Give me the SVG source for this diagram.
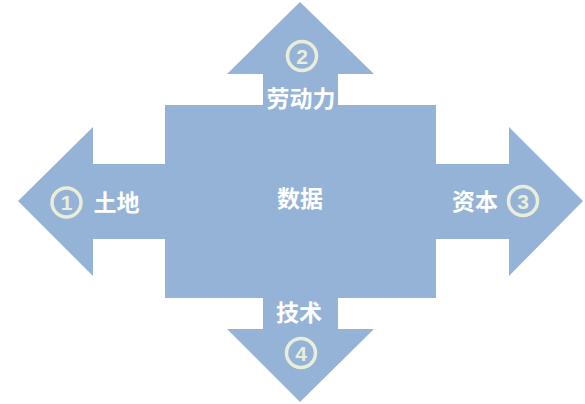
<svg xmlns="http://www.w3.org/2000/svg" width="585" height="404" viewBox="0 0 585 404">
<style>
.shape{fill:#95B3D7;}
.lbl{font-family:"Noto Sans CJK SC","Noto Sans",sans-serif;font-weight:bold;font-size:23px;fill:#FFFFFF;text-anchor:middle;}
.ring{fill:none;stroke:#E8EED9;stroke-width:3.5;}
.num{font-family:"Liberation Sans",Arial,sans-serif;font-weight:bold;font-size:21px;fill:#E8EED9;text-anchor:middle;}
</style>
<rect width="585" height="404" fill="#FFFFFF"/>
<g id="arrows">
<path class="shape" d="M300,2 L374,74 L338,74 L338,105 L263,105 L263,74 L227,74 Z"/>
<path class="shape" d="M300,402 L374,329 L338,329 L338,298 L263,298 L263,329 L227,329 Z"/>
<path class="shape" d="M18,201 L93,127 L93,164 L165,164 L165,239 L93,239 L93,276 Z"/>
<path class="shape" d="M583,201 L509,127 L509,164 L436,164 L436,239 L509,239 L509,276 Z"/>
</g>
<g id="center">
<rect class="shape" x="165" y="105" width="271" height="193"/>
<text class="lbl" x="300" y="207">数据</text>
</g>
<g id="land">
<circle class="ring" cx="66.5" cy="202.5" r="14.5"/>
<text class="num" x="66.5" y="210">1</text>
<text class="lbl" x="116.5" y="211">土地</text>
</g>
<g id="labor">
<circle class="ring" cx="302" cy="56" r="14.5"/>
<text class="num" x="302" y="63.5">2</text>
<text class="lbl" x="301" y="107">劳动力</text>
</g>
<g id="capital">
<circle class="ring" cx="523" cy="201" r="14.5"/>
<text class="num" x="523" y="208.5">3</text>
<text class="lbl" x="475" y="210">资本</text>
</g>
<g id="tech">
<text class="lbl" x="299" y="321">技术</text>
<circle class="ring" cx="301" cy="353" r="14.5"/>
<text class="num" x="301" y="360.5">4</text>
</g>
</svg>
